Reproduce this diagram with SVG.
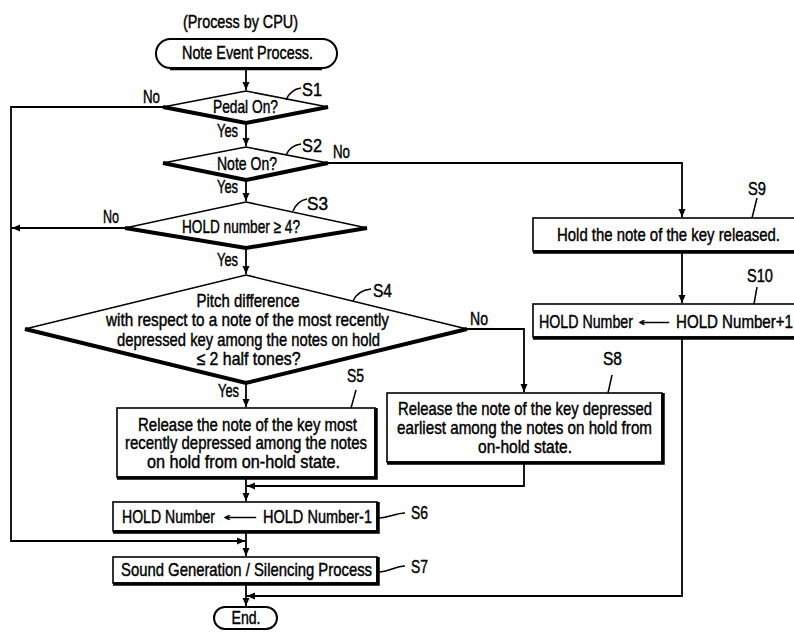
<svg xmlns="http://www.w3.org/2000/svg" width="794" height="633" viewBox="0 0 794 633">
<style>
text{font-family:"Liberation Sans",Arial,sans-serif;font-size:18.5px;fill:#000;stroke:#000;stroke-width:0.45}
.c{text-anchor:middle}
.box{fill:#fff;stroke:#000;stroke-width:1.6}
.sh{fill:none;stroke:#000;stroke-width:3.5}
.dia{fill:#fff;stroke:#000;stroke-width:1.6;stroke-linejoin:miter}
.dsh{fill:none;stroke:#000;stroke-width:4;stroke-linejoin:miter}
.ln{fill:none;stroke:#000;stroke-width:1.8}
.ld{fill:none;stroke:#000;stroke-width:1.5}
.ar{font-size:14px;stroke-width:0.3}
</style>
<defs>
<marker id="ah" markerUnits="userSpaceOnUse" markerWidth="9" markerHeight="8" refX="8" refY="4" orient="auto">
<path d="M0,0.5 L8,4 L0,7.5 z" fill="#000"/>
</marker>
</defs>
<rect width="794" height="633" fill="#fff"/>

<text x="240.5" y="28" class="c" textLength="115" lengthAdjust="spacingAndGlyphs">(Process by CPU)</text>

<g id="connectors">
<path class="ln" d="M246,68 V90" marker-end="url(#ah)"/>
<path class="ln" d="M246,123 V146" marker-end="url(#ah)"/>
<path class="ln" d="M246,180 V201" marker-end="url(#ah)"/>
<path class="ln" d="M246,248 V274" marker-end="url(#ah)"/>
<path class="ln" d="M246,383 V407" marker-end="url(#ah)"/>
<path class="ln" d="M246,478 V501" marker-end="url(#ah)"/>
<path class="ln" d="M524,463 V486 H247" marker-end="url(#ah)"/>
<path class="ln" d="M246,532 V556" marker-end="url(#ah)"/>
<path class="ln" d="M163,107 H11 V541 H245" marker-end="url(#ah)"/>
<path class="ln" d="M125,228 H12" marker-end="url(#ah)"/>
<path class="ln" d="M246,584 V606" marker-end="url(#ah)"/>
<path class="ln" d="M682,338 V596 H247" marker-end="url(#ah)"/>
<path class="ln" d="M328,163 H682 V217" marker-end="url(#ah)"/>
<path class="ln" d="M682,252 V303" marker-end="url(#ah)"/>
<path class="ln" d="M467,329 H524 V392" marker-end="url(#ah)"/>
<text x="143" y="103" textLength="17" lengthAdjust="spacingAndGlyphs">No</text>
<text x="217" y="137" textLength="21" lengthAdjust="spacingAndGlyphs">Yes</text>
<text x="333" y="158" textLength="17" lengthAdjust="spacingAndGlyphs">No</text>
<text x="217" y="193" textLength="21" lengthAdjust="spacingAndGlyphs">Yes</text>
<text x="103" y="223" textLength="16" lengthAdjust="spacingAndGlyphs">No</text>
<text x="217" y="266" textLength="21" lengthAdjust="spacingAndGlyphs">Yes</text>
<text x="470" y="325" textLength="18" lengthAdjust="spacingAndGlyphs">No</text>
<text x="218" y="397" textLength="21" lengthAdjust="spacingAndGlyphs">Yes</text>
</g>

<g id="start">
<rect class="box" x="156" y="39" width="181" height="29" rx="14.5" style="stroke-width:2"/>
<path class="sh" d="M322,69 H170" style="stroke-width:2.5"/>
<text x="247.5" y="59" class="c" textLength="131" lengthAdjust="spacingAndGlyphs">Note Event Process.</text>
</g>

<g id="S1">
<polygon class="dia" points="246,91 328,107 246,123 163,107"/>
<polyline class="dsh" points="163,107 246,123 328,107"/>
<text x="245.5" y="113" class="c" textLength="65" lengthAdjust="spacingAndGlyphs">Pedal On?</text>
<path class="ld" d="M286,100 C289,93 294,89 301,88"/>
<text x="302" y="96" textLength="20" lengthAdjust="spacingAndGlyphs">S1</text>
</g>

<g id="S2">
<polygon class="dia" points="246,147 328,163 246,180 163,163"/>
<polyline class="dsh" points="163,163 246,180 328,163"/>
<text x="247" y="170" class="c" textLength="60" lengthAdjust="spacingAndGlyphs">Note On?</text>
<path class="ld" d="M286,155 C289,148 294,145 301,144"/>
<text x="302" y="152" textLength="20" lengthAdjust="spacingAndGlyphs">S2</text>
</g>

<g id="S3">
<polygon class="dia" points="246,202 367,228 246,248 125,228"/>
<polyline class="dsh" points="125,228 246,248 367,228"/>
<text x="241" y="233" class="c" textLength="118" lengthAdjust="spacingAndGlyphs">HOLD number ≥ 4?</text>
<path class="ld" d="M293,211 C296,204 301,200 307,199"/>
<text x="307" y="210" textLength="21" lengthAdjust="spacingAndGlyphs">S3</text>
</g>

<g id="S4">
<polygon class="dia" points="246,275 467,329 246,383 25,329"/>
<polyline class="dsh" points="25,329 246,383 467,329"/>
<text x="248" y="307" class="c" textLength="103" lengthAdjust="spacingAndGlyphs">Pitch difference</text>
<text x="247.5" y="326" class="c" textLength="283" lengthAdjust="spacingAndGlyphs">with respect to a note of the most recently</text>
<text x="248.5" y="346" class="c" textLength="263" lengthAdjust="spacingAndGlyphs">depressed key among the notes on hold</text>
<text x="248.5" y="365" class="c" textLength="104" lengthAdjust="spacingAndGlyphs">≤ 2 half tones?</text>
<path class="ld" d="M353,301 C356,294 362,290 371,289"/>
<text x="373" y="297" textLength="19" lengthAdjust="spacingAndGlyphs">S4</text>
</g>

<g id="S5">
<rect class="box" x="117" y="408" width="258" height="69"/>
<path class="sh" d="M376,408 V478 H117"/>
<text x="247.5" y="431" class="c" textLength="219" lengthAdjust="spacingAndGlyphs">Release the note of the key most</text>
<text x="246" y="449" class="c" textLength="242" lengthAdjust="spacingAndGlyphs">recently depressed among the notes</text>
<text x="243.5" y="468" class="c" textLength="193" lengthAdjust="spacingAndGlyphs">on hold from on-hold state.</text>
<path class="ld" d="M351,408 L356,390"/>
<text x="347" y="382" textLength="17" lengthAdjust="spacingAndGlyphs">S5</text>
</g>

<g id="S8">
<rect class="box" x="387" y="393" width="275" height="69"/>
<path class="sh" d="M663,393 V463 H387"/>
<text x="525" y="415" class="c" textLength="254" lengthAdjust="spacingAndGlyphs">Release the note of the key depressed</text>
<text x="524.5" y="434" class="c" textLength="255" lengthAdjust="spacingAndGlyphs">earliest among the notes on hold from</text>
<text x="525" y="453" class="c" textLength="94" lengthAdjust="spacingAndGlyphs">on-hold state.</text>
<path class="ld" d="M608,393 L612,375"/>
<text x="603" y="365" textLength="19" lengthAdjust="spacingAndGlyphs">S8</text>
</g>

<g id="S9">
<rect class="box" x="533" y="218" width="267" height="33"/>
<path class="sh" d="M801,218 V252 H533"/>
<text x="668.5" y="241" class="c" textLength="223" lengthAdjust="spacingAndGlyphs">Hold the note of the key released.</text>
<path class="ld" d="M752,218 L757,198"/>
<text x="748" y="195" textLength="18" lengthAdjust="spacingAndGlyphs">S9</text>
</g>

<g id="S10">
<rect class="box" x="533" y="304" width="267" height="33"/>
<path class="sh" d="M801,304 V338 H533"/>
<text x="539" y="328" textLength="94" lengthAdjust="spacingAndGlyphs">HOLD Number</text>
<text x="638" y="327" class="ar" textLength="32" lengthAdjust="spacingAndGlyphs">⟵</text>
<text x="676" y="328" textLength="117" lengthAdjust="spacingAndGlyphs">HOLD Number+1</text>
<path class="ld" d="M754,304 L757,287"/>
<text x="747" y="282" textLength="26" lengthAdjust="spacingAndGlyphs">S10</text>
</g>

<g id="S6">
<rect class="box" x="113" y="502" width="264" height="29"/>
<path class="sh" d="M378,502 V532 H113"/>
<text x="122" y="523" textLength="93" lengthAdjust="spacingAndGlyphs">HOLD Number</text>
<text x="223" y="522" class="ar" textLength="34" lengthAdjust="spacingAndGlyphs">⟵</text>
<text x="263" y="523" textLength="109" lengthAdjust="spacingAndGlyphs">HOLD Number-1</text>
<path class="ld" d="M379,518 C388,518 396,513 405,513"/>
<text x="411" y="519" textLength="17" lengthAdjust="spacingAndGlyphs">S6</text>
</g>

<g id="S7">
<rect class="box" x="113" y="557" width="264" height="26"/>
<path class="sh" d="M378,557 V584 H113"/>
<text x="246.5" y="576" class="c" textLength="251" lengthAdjust="spacingAndGlyphs">Sound Generation / Silencing Process</text>
<path class="ld" d="M379,572 C388,572 396,566 405,566"/>
<text x="411" y="573" textLength="17" lengthAdjust="spacingAndGlyphs">S7</text>
</g>

<g id="end">
<rect class="box" x="214" y="607" width="63" height="22" rx="11" style="stroke-width:2"/>
<text x="246" y="624" class="c" textLength="29" lengthAdjust="spacingAndGlyphs">End.</text>
</g>
</svg>
